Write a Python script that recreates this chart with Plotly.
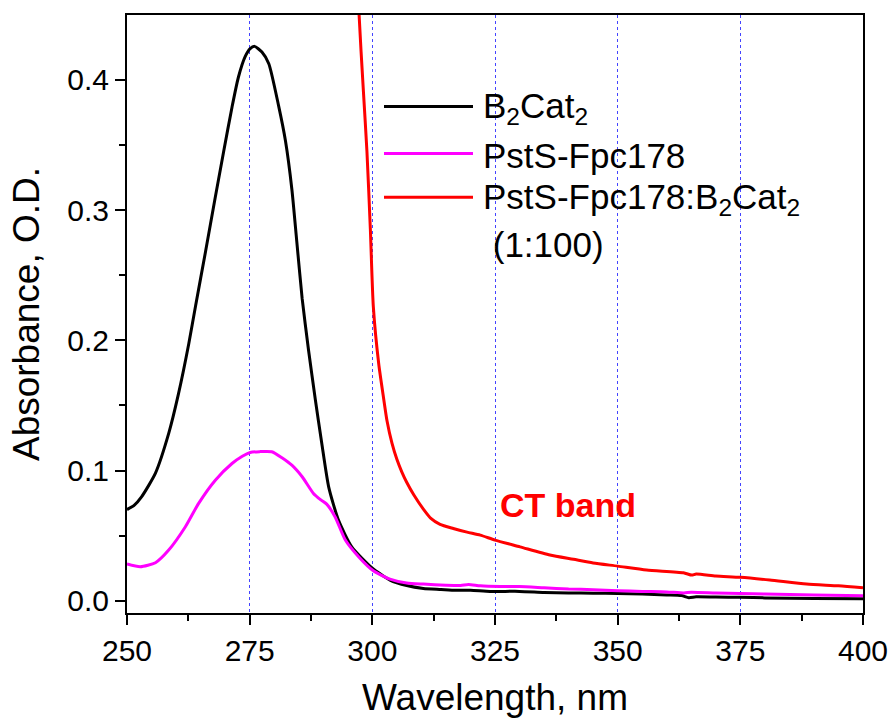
import plotly.graph_objects as go

# --- data ---
wl_b2cat2 = [250, 251.5, 253, 255.8, 258.5, 260.5, 262.6, 264, 266, 268, 269.7, 271.4, 272.7,
             274.1, 275.1, 276, 277.5, 278.9, 280.9, 282.3, 283.6, 284.6, 285.7, 287,
             288.4, 289.7, 291.1, 293.1, 295.8, 300, 303.6, 307, 310.4, 314, 317, 320,
             324, 330, 335, 340, 345, 350, 355, 360, 363, 364.5, 366, 370, 375, 380, 390, 400]
abs_b2cat2 = [0.0700, 0.0735, 0.0800, 0.0980, 0.1285, 0.1590, 0.1975, 0.2270, 0.2680, 0.3100,
              0.3450, 0.3790, 0.4020, 0.4180, 0.4240, 0.4257, 0.4213, 0.4124, 0.3800, 0.3530,
              0.3160, 0.2760, 0.2320, 0.1924, 0.1540, 0.1208, 0.0875, 0.0619, 0.0414, 0.0250,
              0.0159, 0.0117, 0.0095, 0.0087, 0.0080, 0.0080, 0.0072, 0.0072, 0.0064, 0.0060,
              0.0058, 0.0056, 0.0052, 0.0045, 0.0040, 0.0023, 0.0030, 0.0028, 0.0027, 0.0022,
              0.0018, 0.0015]

wl_psts = [250, 252.7, 255.8, 258.5, 261.9, 264.6, 268, 271.4, 273.5, 275.1, 277, 279.5,
           281.5, 283.6, 285.7, 288, 289.5, 290.7, 292.4, 294.5, 297.2, 300.2, 303.6, 307,
           310.4, 315, 318, 319.6, 322, 326, 330, 335, 340, 345, 350, 355, 360, 363.5, 365,
           370, 375, 380, 390, 400]
abs_psts = [0.0282, 0.0261, 0.0292, 0.0389, 0.0568, 0.0748, 0.0926, 0.1054, 0.1110, 0.1139,
            0.1145, 0.1144, 0.1100, 0.1041, 0.0952, 0.0824, 0.0775, 0.0742, 0.0645, 0.0466,
            0.0338, 0.0230, 0.0166, 0.0136, 0.0128, 0.0120, 0.0118, 0.0125, 0.0115, 0.0110,
            0.0110, 0.0100, 0.0090, 0.0085, 0.0077, 0.0072, 0.0068, 0.0060, 0.0066, 0.0060,
            0.0056, 0.0052, 0.0045, 0.0038]

wl_complex = [296, 297.3, 298.2, 298.9, 299.6, 300.2, 301.3, 302.2, 303, 304, 305, 306, 307,
              308.5, 310.4, 312, 313.8, 316.5, 319.3, 322, 325, 330.1, 336.2, 341, 345, 350,
              355.9, 363.4, 365.1, 366, 370, 375, 381, 388.5, 395, 400]
abs_complex = [0.60, 0.450, 0.390, 0.345, 0.285, 0.226, 0.182, 0.158, 0.138, 0.121, 0.1086,
               0.099, 0.091, 0.081, 0.0704, 0.063, 0.0586, 0.0555, 0.0527, 0.0504, 0.0466,
               0.0414, 0.0351, 0.0318, 0.0290, 0.0266, 0.0236, 0.0215, 0.0197, 0.0205, 0.0190,
               0.0180, 0.0159, 0.0128, 0.0115, 0.0100]

series_names = ["B<sub>2</sub>Cat<sub>2</sub>", "PstS-Fpc178",
                "PstS-Fpc178:B<sub>2</sub>Cat<sub>2</sub>"]
series_colors = ["#000000", "#ff00ff", "#ff0000"]

FONT = "Liberation Sans, Arial, sans-serif"

fig = go.Figure()
for wl, ab, name, col in [(wl_b2cat2, abs_b2cat2, series_names[0], series_colors[0]),
                          (wl_psts, abs_psts, series_names[1], series_colors[1]),
                          (wl_complex, abs_complex, series_names[2], series_colors[2])]:
    fig.add_trace(go.Scatter(x=wl, y=ab, mode="lines", name=name,
                             line=dict(color=col, width=3, shape="spline", smoothing=0.6),
                             showlegend=False))

# manual legend
L, W, T, H = 127, 736, 14.5, 598.5
def px(x):
    return (x - L) / W
def py(y):
    return (T + H - y) / H

rows = [106, 153, 197]
for y, name, col in zip(rows, series_names, series_colors):
    fig.add_shape(type="line", xref="paper", yref="paper",
                  x0=px(384), x1=px(473), y0=py(y), y1=py(y),
                  line=dict(color=col, width=3))
    fig.add_annotation(xref="paper", yref="paper", x=px(481), y=py(y + 2),
                       text=name, showarrow=False, xanchor="left", yanchor="middle",
                       font=dict(family=FONT, size=35, color="black"))
fig.add_annotation(xref="paper", yref="paper", x=px(481), y=py(244),
                   text=" (1:100)", showarrow=False, xanchor="left", yanchor="middle",
                   font=dict(family=FONT, size=35, color="black"))

fig.add_annotation(xref="paper", yref="paper", x=px(498), y=py(505),
                   text="<b>CT band</b>", showarrow=False, xanchor="left", yanchor="middle",
                   font=dict(family=FONT, size=34, color="#ff0000"))

axis_common = dict(showline=True, linecolor="black", linewidth=2, mirror=True,
                   ticks="outside", ticklen=10, tickwidth=2, tickcolor="black",
                   tickfont=dict(family=FONT, size=30, color="black"),
                   zeroline=False, automargin=False)

fig.update_layout(
    width=892, height=718,
    margin=dict(l=127, r=29, t=14.5, b=104.5),
    paper_bgcolor="white", plot_bgcolor="white",
    showlegend=False,
    xaxis=dict(range=[250, 400], dtick=25, tick0=250,
               showgrid=True, gridcolor="#4444ff", gridwidth=1, griddash="dot",
               minor=dict(dtick=12.5, ticks="outside", ticklen=6, tickwidth=2,
                          tickcolor="black", showgrid=False),
               title=dict(text="Wavelength, nm", font=dict(family=FONT, size=37, color="black"),
                          standoff=22),
               **axis_common),
    yaxis=dict(range=[-0.0094, 0.4498], dtick=0.1, tick0=0, tickformat=".1f",
               showgrid=False,
               minor=dict(dtick=0.05, ticks="outside", ticklen=6, tickwidth=2,
                          tickcolor="black", showgrid=False),
               title=dict(text="Absorbance, O.D.", font=dict(family=FONT, size=37, color="black"),
                          standoff=16),
               **axis_common),
)

fig.write_html("out.html")
